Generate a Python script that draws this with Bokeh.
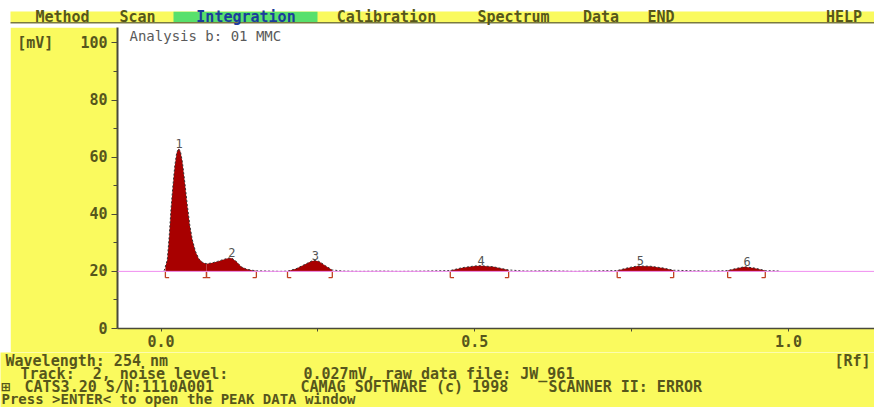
import numpy as np
from bokeh.plotting import figure
from bokeh.layouts import column, row
from bokeh.models import Range1d, Span, FixedTicker, PrintfTickFormatter, Spacer
from bokeh.embed import file_html
from bokeh.resources import INLINE
from bokeh.core.properties import value

# ---------------- data ----------------
rf = [0.005, 0.010, 0.013, 0.016, 0.019, 0.022, 0.025, 0.028, 0.031, 0.034,
      0.038, 0.042, 0.046, 0.050, 0.055, 0.060, 0.066, 0.072, 0.080, 0.090,
      0.100, 0.108, 0.113, 0.120, 0.128, 0.136, 0.145, 0.152, 0.170, 0.190,
      0.202, 0.215, 0.228, 0.240, 0.246, 0.252, 0.262, 0.273, 0.290, 0.320,
      0.350, 0.380, 0.420, 0.461, 0.480, 0.500, 0.510, 0.530, 0.554, 0.580,
      0.620, 0.660, 0.700, 0.727, 0.745, 0.760, 0.780, 0.800, 0.817, 0.850,
      0.880, 0.903, 0.920, 0.930, 0.945, 0.963, 0.987]
mv = [20.2, 24.0, 32.0, 42.0, 50.0, 57.0, 61.5, 63.0, 62.0, 58.5,
      51.0, 43.0, 36.0, 31.0, 27.0, 24.5, 23.2, 22.7, 22.9, 23.5,
      24.2, 24.7, 24.6, 23.5, 21.6, 20.8, 20.4, 20.2, 20.1, 20.0,
      20.1, 20.9, 22.3, 23.6, 23.8, 23.5, 22.0, 20.5, 20.1, 20.0,
      20.1, 20.0, 20.1, 20.3, 21.3, 21.9, 22.0, 21.6, 20.5, 20.1,
      20.2, 20.0, 20.2, 20.3, 21.3, 21.9, 21.8, 21.2, 20.4, 20.2,
      20.1, 20.3, 21.2, 21.6, 21.2, 20.3, 20.1]
baseline = 20.0
peak_no = ["1", "2", "3", "4", "5", "6"]
peak_rf = [0.029, 0.113, 0.246, 0.510, 0.764, 0.934]
peak_top = [63.0, 24.7, 23.8, 22.0, 22.0, 21.6]
peak_start = [0.007, 0.0725, 0.2016, 0.461, 0.727, 0.903]
peak_end = [0.0725, 0.152, 0.273, 0.554, 0.817, 0.963]
x_ticks = [0.0, 0.5, 1.0]
x_minor = [0.25, 0.75]
y_ticks = [0, 20, 40, 60, 80, 100]
y_minor = [10, 30, 50, 70, 90]
y_unit = "[mV]"
menu = ["Method", "Scan", "Integration", "Calibration", "Spectrum", "Data", "END", "HELP"]
NB = "\u00a0"
footer = ["Wavelength: 254 nm", "[Rf]",
          "Track:" + NB * 2 + "2, noise level:", "0.027mV, raw data file: JW_961",
          "\u229e", "CATS3.20 S/N:1110A001", "CAMAG SOFTWARE (c) 1998", "SCANNER II: ERROR",
          "Press >ENTER< to open the PEAK DATA window"]

# ---------------- style / layout ----------------
YELLOW = "#fafa5e"
OLIVE = "#56561c"
MONO = "DejaVu Sans Mono"
W = 874
X0, XS = 160.5, 627.5      # window px of Rf 0, px per Rf unit
LEFT, TOP, BOTTOM = 117, 27, 327.7

def RX(px): return (px - X0) / XS

# ---- menu bar (pixel coordinates, y downwards) ----
top = figure(width=W, height=TOP, output_backend="svg", toolbar_location=None,
             x_range=Range1d(0, W), y_range=Range1d(TOP, 0),
             x_axis_type=None, y_axis_type=None, min_border=0)
top.outline_line_color = None
top.grid.visible = False
top.background_fill_color = "white"
top.border_fill_color = "white"
top.quad(left=10, right=W, top=11, bottom=21.5, fill_color=YELLOW, line_color=None)
top.quad(left=10, right=W, top=21.5, bottom=23, fill_color="#7a7a40", line_color=None)
top.quad(left=173, right=317, top=11.3, bottom=21.5, fill_color="#58e06c", line_color=None)
menu_cx = [62, 137, 245.5, 386, 513, 600.5, 660.5, 843.5]
menu_col = ["#1c3c9c" if m == "Integration" else OLIVE for m in menu]
top.text(x=menu_cx, y=[16.8] * len(menu), text=menu, text_font=value(MONO), text_font_size="15px",
         text_font_style="bold", text_color=menu_col, text_align="center", text_baseline="middle")

# ---- main chart ----
frame_h = BOTTOM - TOP
p = figure(width=W - 10, height=int(round(frame_h)) + 24, output_backend="svg", toolbar_location=None,
           x_range=Range1d(RX(LEFT), RX(W)), y_range=Range1d(0, frame_h / 2.853),
           min_border_left=LEFT - 10, min_border_right=0, min_border_top=0, min_border_bottom=24)
p.border_fill_color = YELLOW
p.background_fill_color = "white"
p.outline_line_color = None
p.grid.visible = False

for ax in (p.xaxis[0], p.yaxis[0]):
    ax.axis_line_color = "#4a4a3a"
    ax.axis_line_width = 2
    ax.major_tick_line_color = "#4a4a3a"
    ax.minor_tick_line_color = "#4a4a3a"
    ax.major_tick_in = 0
    ax.minor_tick_in = 0
    ax.major_label_text_font = MONO
    ax.major_label_text_font_style = "bold"
    ax.major_label_text_font_size = "15px"
    ax.major_label_text_color = OLIVE

p.xaxis.ticker = FixedTicker(ticks=x_ticks, minor_ticks=x_minor)
p.xaxis.formatter = PrintfTickFormatter(format="%.1f")
p.xaxis.major_tick_out = 3
p.xaxis.minor_tick_out = 3
p.xaxis.axis_line_width = 1.5
p.xaxis.major_label_standoff = 3
p.yaxis.ticker = FixedTicker(ticks=y_ticks, minor_ticks=y_minor)
p.yaxis.major_label_overrides = {y_ticks[-1]: y_unit + NB * 3 + str(y_ticks[-1])}
p.yaxis.major_tick_out = 6
p.yaxis.minor_tick_out = 4
p.yaxis.major_label_standoff = 4

p.add_layout(Span(location=baseline, dimension="width", line_color="#f08cf0", line_width=1))

rf_a = np.array(rf); mv_a = np.array(mv)
for s, e in zip(peak_start, peak_end):
    m = (rf_a > s) & (rf_a < e)
    xs = np.concatenate([[s], rf_a[m], [e]])
    ys = np.concatenate([[np.interp(s, rf_a, mv_a)], mv_a[m], [np.interp(e, rf_a, mv_a)]])
    p.varea(x=xs, y1=baseline, y2=ys, fill_color="#a80000")

p.line(rf, mv, line_color="#333333", line_width=1, line_dash="2 2")

foot = 0.006
drop = 2.2
mk = dict(line_color="#c04020", line_width=1.3)
n = len(peak_start)
p.segment(x0=peak_start, y0=[baseline] * n, x1=peak_start, y1=[baseline - drop] * n, **mk)
p.segment(x0=peak_start, y0=[baseline - drop] * n, x1=[s + foot for s in peak_start], y1=[baseline - drop] * n, **mk)
p.segment(x0=peak_end, y0=[baseline] * n, x1=peak_end, y1=[baseline - drop] * n, **mk)
p.segment(x0=peak_end, y0=[baseline - drop] * n, x1=[s - foot for s in peak_end], y1=[baseline - drop] * n, **mk)

p.text(x=peak_rf, y=peak_top, text=peak_no, text_font=value(MONO), text_font_size="12px",
       text_color="#555555", text_align="center", text_baseline="bottom", y_offset=-1)

p.text(x=[RX(129)], y=[(BOTTOM - 35.5) / 2.853], text=["Analysis b: 01 MMC"], text_font=value(MONO),
       text_font_size="14px", text_color="#5a5a5a", text_align="left", text_baseline="middle")

# ---- footer (pixel coordinates, y downwards) ----
FT = 27 + int(round(frame_h)) + 24
fh = 407 - FT
bot = figure(width=W, height=fh, output_backend="svg", toolbar_location=None,
             x_range=Range1d(0, W), y_range=Range1d(fh, 0),
             x_axis_type=None, y_axis_type=None, min_border=0)
bot.outline_line_color = None
bot.grid.visible = False
bot.background_fill_color = YELLOW
bot.border_fill_color = YELLOW
foot_x = [5, 870, 20, 303, 1, 24, 300, 548, 1]
foot_cy = [360, 360, 373, 373, 386, 386, 386, 386, 398]
foot_al = ["left", "right", "left", "left", "left", "left", "left", "left", "left"]
foot_fs = ["15px"] * 8 + ["14px"]
bot.text(x=foot_x, y=[c - FT for c in foot_cy], text=footer, text_font=value(MONO),
         text_font_size=foot_fs, text_font_style="bold", text_color=OLIVE,
         text_align=foot_al, text_baseline="middle")

layout = column(top, row(Spacer(width=10, height=p.height), p), bot, spacing=0)
open("out.html", "w").write(file_html(layout, INLINE))
